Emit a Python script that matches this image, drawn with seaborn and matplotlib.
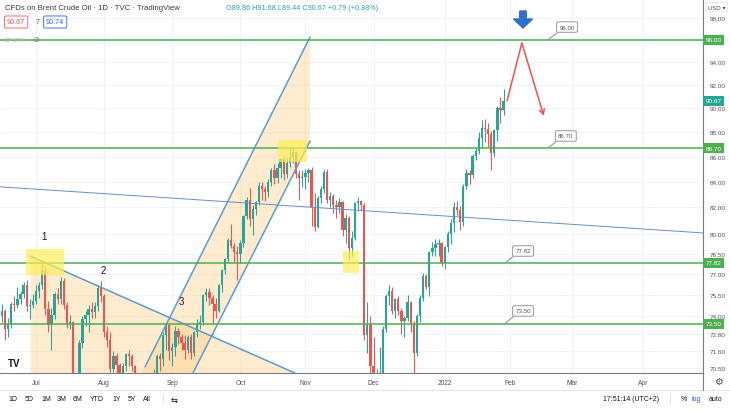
import numpy as np
import pandas as pd
import matplotlib
matplotlib.use("Agg")
import matplotlib.pyplot as plt
import matplotlib.transforms as mtransforms
from matplotlib.patches import Rectangle, FancyArrow
from matplotlib.lines import Line2D
from matplotlib.ticker import NullLocator, NullFormatter, FixedLocator, FixedFormatter
import seaborn as sns

sns.set_theme(style="white")
plt.rcParams['font.family'] = ['Liberation Sans', 'DejaVu Sans']

# ---------------- data (daily candles, business days from 2021-06-14) ----------------
start_date = "2021-06-14"
opens = [72.6, 72.9, 74.0, 74.4, 73.1, 73.5, 74.9, 74.8, 75.2, 75.6,
         76.2, 74.7, 74.8, 75.1, 75.8, 76.2, 77.2, 74.5, 73.4, 74.1,
         75.6, 75.2, 76.5, 74.8, 73.5, 73.6, 68.6, 69.4, 72.2, 73.8,
         74.1, 74.5, 74.3, 74.7, 76.0, 75.4, 72.9, 72.4, 70.4, 71.3,
         70.7, 69.0, 70.6, 71.4, 71.3, 70.6, 69.5, 69.0, 68.2, 66.5,
         65.2, 68.8, 70.1, 71.3, 71.1, 72.7, 73.4, 71.6, 71.9, 73.0,
         72.6, 72.2, 71.7, 72.6, 71.5, 72.9, 73.5, 73.6, 75.5, 75.7,
         75.3, 74.9, 74.4, 76.2, 77.3, 78.1, 79.5, 79.1, 78.6, 78.5,
         79.3, 81.3, 82.6, 81.1, 81.9, 82.4, 83.7, 83.4, 83.2, 84.0,
         84.9, 84.3, 85.1, 85.8, 84.6, 85.5, 86.0, 86.4, 84.6, 84.3,
         84.4, 84.7, 84.9, 82.0, 80.5, 82.7, 83.4, 84.8, 82.6, 82.9,
         82.2, 82.0, 82.4, 80.3, 81.2, 78.9, 79.7, 82.3, 82.5, 82.2,
         72.7, 73.4, 70.6, 68.9, 69.7, 69.9, 73.1, 75.4, 75.8, 74.4,
         75.2, 74.4, 73.7, 73.9, 75.0, 73.5, 71.5, 74.0, 75.3, 76.9,
         76.1, 78.6, 78.9, 79.2, 79.3, 77.8, 79.0, 80.0, 80.8, 82.0,
         81.8, 80.9, 83.7, 84.7, 84.5, 86.1, 86.5, 87.5, 88.4, 88.3,
         87.9, 86.3, 88.2, 90.0, 89.86]
highs = [73.4, 74.2, 74.9, 74.5, 73.9, 75.0, 75.4, 76.1, 75.8, 76.4,
         76.6, 75.2, 75.6, 76.2, 76.4, 77.8, 77.6, 75.1, 74.6, 75.7,
         76.0, 76.8, 76.7, 75.0, 74.1, 73.7, 69.9, 72.4, 74.0, 74.4,
         74.8, 75.0, 75.0, 76.2, 76.5, 75.6, 73.3, 72.9, 71.6, 71.5,
         70.8, 70.8, 71.5, 71.7, 71.4, 70.7, 69.9, 69.9, 68.4, 66.8,
         68.9, 70.4, 71.4, 71.5, 72.9, 73.5, 73.5, 72.2, 73.3, 73.2,
         72.8, 72.7, 72.7, 72.8, 73.0, 73.8, 74.1, 75.6, 76.0, 76.0,
         75.5, 75.3, 76.3, 77.4, 78.2, 79.7, 80.7, 79.3, 79.1, 79.5,
         81.4, 82.8, 83.5, 82.2, 82.5, 84.0, 84.0, 83.7, 84.2, 85.1,
         85.4, 85.5, 85.9, 86.1, 85.9, 86.7, 86.7, 86.5, 84.9, 84.9,
         85.0, 85.1, 85.2, 83.1, 82.9, 83.7, 85.0, 85.0, 83.2, 83.0,
         82.6, 82.7, 82.5, 81.5, 81.3, 80.2, 82.4, 82.8, 82.6, 82.3,
         75.0, 74.0, 72.6, 70.4, 71.9, 73.3, 75.6, 76.2, 76.1, 75.3,
         75.4, 74.6, 74.0, 75.5, 75.1, 73.7, 74.2, 75.5, 77.1, 77.0,
         78.7, 79.4, 79.6, 79.6, 79.4, 79.1, 80.2, 81.1, 82.4, 82.5,
         82.1, 83.8, 85.0, 84.9, 86.2, 86.7, 88.0, 89.0, 89.1, 88.8,
         88.1, 88.3, 90.2, 91.0, 91.68]
lows = [72.2, 72.6, 73.6, 72.4, 72.6, 73.2, 74.4, 74.6, 74.9, 75.3,
        74.4, 73.8, 74.6, 74.9, 75.3, 75.9, 74.1, 72.9, 71.7, 73.8,
        74.9, 74.9, 74.5, 73.2, 73.1, 68.3, 67.4, 68.9, 71.8, 73.3,
        72.9, 73.9, 73.9, 74.4, 75.0, 72.6, 71.9, 70.2, 70.2, 69.8,
        68.2, 68.8, 70.3, 70.6, 70.3, 68.9, 68.7, 68.0, 65.8, 64.6,
        65.0, 68.5, 69.9, 70.3, 70.6, 71.7, 71.0, 70.6, 71.3, 72.1,
        71.7, 71.1, 71.5, 71.1, 71.3, 72.6, 73.1, 73.4, 75.1, 74.8,
        73.5, 73.9, 74.3, 75.7, 77.0, 77.9, 78.9, 77.9, 76.6, 77.8,
        79.0, 81.1, 80.6, 79.9, 81.4, 82.2, 82.6, 82.5, 82.8, 83.7,
        83.8, 83.9, 84.3, 84.1, 84.3, 85.2, 85.5, 84.3, 82.6, 83.6,
        83.4, 84.0, 80.6, 80.2, 80.4, 82.3, 83.1, 82.3, 82.0, 81.6,
        81.2, 81.6, 79.8, 79.3, 78.0, 78.3, 79.5, 81.7, 81.8, 72.4,
        71.5, 69.8, 68.3, 65.7, 69.3, 69.7, 72.9, 74.8, 74.2, 73.9,
        74.1, 72.8, 72.6, 73.7, 72.9, 69.3, 71.3, 73.6, 75.1, 75.9,
        75.4, 78.3, 78.3, 78.3, 77.6, 77.4, 78.6, 79.2, 80.1, 81.4,
        80.3, 80.6, 83.4, 83.8, 84.3, 85.7, 86.2, 86.7, 87.2, 86.8,
        84.9, 86.0, 87.3, 88.8, 89.44]
closes = [72.9, 74.0, 74.4, 73.1, 73.5, 74.9, 74.8, 75.2, 75.6, 76.2,
          74.7, 74.8, 75.1, 75.8, 76.2, 77.2, 74.5, 73.4, 74.1, 75.6,
          75.2, 76.5, 74.8, 73.5, 73.6, 68.6, 69.4, 72.2, 73.8, 74.1,
          74.5, 74.3, 74.7, 76.0, 75.4, 72.9, 72.4, 70.4, 71.3, 70.7,
          69.0, 70.6, 71.4, 71.3, 70.6, 69.5, 69.0, 68.2, 66.5, 65.2,
          68.8, 70.1, 71.3, 71.1, 72.7, 73.4, 71.6, 71.9, 73.0, 72.6,
          72.2, 71.7, 72.6, 71.5, 72.9, 73.5, 73.6, 75.5, 75.7, 75.3,
          74.9, 74.4, 76.2, 77.3, 78.1, 79.5, 79.1, 78.6, 78.5, 79.3,
          81.3, 82.6, 81.1, 81.9, 82.4, 83.7, 83.4, 83.2, 84.0, 84.9,
          84.3, 85.1, 85.8, 84.6, 85.5, 86.0, 86.4, 84.6, 84.3, 84.4,
          84.7, 84.9, 82.0, 80.5, 82.7, 83.4, 84.8, 82.6, 82.9, 82.2,
          82.0, 82.4, 80.3, 81.2, 78.9, 79.7, 82.3, 82.5, 82.2, 72.7,
          73.4, 70.6, 68.9, 69.7, 69.9, 73.1, 75.4, 75.8, 74.4, 75.2,
          74.4, 73.7, 73.9, 75.0, 73.5, 71.5, 74.0, 75.3, 76.9, 76.1,
          78.6, 78.9, 79.2, 79.3, 77.8, 79.0, 80.0, 80.8, 82.0, 81.8,
          80.9, 83.7, 84.7, 84.5, 86.1, 86.5, 87.5, 88.4, 88.3, 87.9,
          86.3, 88.2, 90.0, 89.86, 90.67]

y_ticks = [98, 96, 94, 92, 90, 88, 86, 84, 82, 80, 78.5, 77, 75.5, 74, 72.8, 71.6, 70.5]
levels = [96.00, 86.70, 77.82, 73.50]
last_price = 90.67
month_labels = ["Jul", "Aug", "Sep", "Oct", "Nov", "Dec", "2022", "Feb", "Mar", "Apr"]
header_title = "CFDs on Brent Crude Oil · 1D · TVC · TradingView"
header_ohlc = "O89.86 H91.68 L89.44 C90.67 +0.79 (+0.88%)"
bid, spread, ask = "90.67", "7", "90.74"
ranges = ["1D", "5D", "1M", "3M", "6M", "YTD", "1Y", "5Y", "All"]
clock = "17:51:14 (UTC+2)"

# ---------------- derived ----------------
n = len(closes)
idx = np.arange(n)
all_days = pd.bdate_range(start_date, "2022-04-30")
month_starts = pd.date_range("2021-07-01", "2022-04-01", freq="MS")
month_pos = [int(all_days.searchsorted(m)) for m in month_starts]

o = np.array(opens); h = np.array(highs); l = np.array(lows); c = np.array(closes)
up = c >= o
UP, DN = '#26a69a', '#ef5350'
cols = np.where(up, UP, DN)

W, H = 730, 410
fig = plt.figure(figsize=(7.3, 4.1), dpi=100)
ax = fig.add_axes([0, 1 - 374 / H, 703 / W, 374 / H])
ax.set_facecolor('white')

ax.set_yscale('log')
ax.set_ylim(70.16, 99.77)
ax.set_xlim(1.375, 228.4)

# grid
for m in month_pos:
    ax.axvline(m, color='#f0f3fa', lw=0.8, zorder=0)
for t in y_ticks:
    ax.axhline(t, color='#f0f3fa', lw=0.8, zorder=0)

# drawings: shaded triangle and channel
tri_x = [11.3, 96.6, 11.3]
tri_y = [78.33, 70.16, 70.16]
ax.fill(tri_x, tri_y, color='#ffcc80', alpha=0.38, lw=0, zorder=1)
ch_x = [47.2, 101.5, 101.5, 63.7]
ch_y = [70.16, 96.27, 87.29, 70.16]
ax.fill(ch_x, ch_y, color='#ffcc80', alpha=0.38, lw=0, zorder=1)

# candles
ax.vlines(idx, l, h, colors=cols, lw=0.75, zorder=3)
body_h = np.maximum(np.abs(c - o), 0.06)
ax.bar(idx, body_h, bottom=np.minimum(o, c), width=0.75, color=cols, lw=0, zorder=3)

# trend lines
blue = '#5a9bd4'
sns.lineplot(x=[11.1, 96.6], y=[78.33, 70.16], ax=ax, color=blue, lw=1.1, zorder=4)
sns.lineplot(x=[48.2, 101.5], y=[70.56, 96.27], ax=ax, color=blue, lw=1.1, zorder=4)
sns.lineplot(x=[63.7, 101.5], y=[70.16, 87.29], ax=ax, color=blue, lw=1.1, zorder=4)
sns.lineplot(x=[1.375, 228.4], y=[83.6, 80.05], ax=ax, color='#6a8fc4', lw=0.7, zorder=4)

# horizontal levels
green = '#4caf50'
for lv in levels:
    ax.axhline(lv, color=green, lw=1.1, zorder=4)

# yellow boxes
for (x0, x1, y0, y1) in [(9.8, 22.0, 76.94, 78.85), (91.1, 100.5, 85.58, 87.37), (112.1, 117.3, 77.12, 78.70)]:
    ax.add_patch(Rectangle((x0, y0), x1 - x0, y1 - y0, fc='#ffee58', alpha=0.7, ec='none', zorder=5))

# red projection arrow
red = '#ef5350'
ax.plot([165.1, 169.9], [90.64, 95.72], color=red, lw=1.1, zorder=5)
ax.annotate('', xy=(177.0, 89.37), xytext=(169.9, 95.72),
            arrowprops=dict(arrowstyle='->', color=red, lw=1.1, mutation_scale=9, shrinkA=0, shrinkB=0), zorder=5)

# wave labels
for s, x, y in [("1", 15.6, 79.82), ("2", 34.6, 77.31), ("3", 59.8, 75.09)]:
    ax.text(x, y, s, fontsize=7, color='#131722', ha='center', va='center', zorder=6)

# callout labels on the levels
callouts = [(96.00, 178.3, 184.5, 97.17), (86.70, 178.3, 184.1, 87.70),
            (77.82, 164.4, 170.3, 78.70), (73.50, 164.4, 170.3, 74.38)]
for lv, tx, cx, cy in callouts:
    ax.annotate(f"{lv:.2f}", xy=(tx, lv), xytext=(cx, cy), textcoords='data',
                fontsize=4.4, color='#50535e', ha='center', va='center', zorder=7,
                bbox=dict(boxstyle='round,pad=0.45,rounding_size=0.25', fc='white', ec='#9598a1', lw=0.7),
                arrowprops=dict(arrowstyle='-', color='#9598a1', lw=0.8, relpos=(0.12, 0.0), shrinkA=0, shrinkB=0))

# axes styling (the 96.00 tick is covered by its level label, as in the reference)
tick_text = ["" if v in levels else f"{v:.2f}" for v in y_ticks]
ax.yaxis.tick_right()
ax.yaxis.set_major_locator(FixedLocator(y_ticks))
ax.yaxis.set_major_formatter(FixedFormatter(tick_text))
ax.yaxis.set_minor_locator(NullLocator())
ax.yaxis.set_minor_formatter(NullFormatter())
ax.set_xticks(month_pos)
ax.set_xticklabels(month_labels)
ax.tick_params(axis='y', length=0, pad=5, labelsize=4.6, labelcolor='#50535e')
ax.tick_params(axis='x', length=0, pad=4.5, labelsize=4.8, labelcolor='#50535e')
for sp in ['top', 'left']:
    ax.spines[sp].set_visible(False)
for sp in ['right', 'bottom']:
    ax.spines[sp].set_color('#787b86')
    ax.spines[sp].set_linewidth(0.8)

trans = mtransforms.blended_transform_factory(ax.transAxes, ax.transData)
for lv in levels:
    ax.text(1.004, lv, f"{lv:.2f}", transform=trans, ha='left', va='center', fontsize=4.6,
            color='white', clip_on=False, zorder=8,
            bbox=dict(boxstyle='square,pad=0.4', fc=green, ec='none'))
ax.text(1.004, last_price, f"{last_price:.2f}", transform=trans, ha='left', va='center', fontsize=4.6,
        color='white', clip_on=False, zorder=8, bbox=dict(boxstyle='square,pad=0.4', fc=UP, ec='none'))

# TradingView logo
ax.text(14 / 703, (374 - 364) / 374, "TV", transform=ax.transAxes, fontsize=7, fontweight='bold',
        color='#131722', ha='center', va='center', zorder=8,
        bbox=dict(boxstyle='round,pad=0.3', fc='white', ec='none'))

# ---------------- figure-level text (header, toolbar) ----------------
def ftxt(x, y, s, **kw):
    kw.setdefault('va', 'center')
    return fig.text(x / W, 1 - y / H, s, **kw)

ftxt(5, 8, header_title, fontsize=5.6, color='#3a3d46')
ftxt(226, 8, header_ohlc, fontsize=5.2, color=UP)
ftxt(7, 23, bid, fontsize=5.2, color=DN,
     bbox=dict(boxstyle='round,pad=0.35,rounding_size=0.2', fc='white', ec=DN, lw=0.6))
ftxt(36, 23, spread, fontsize=5.0, color='#50535e')
ftxt(46, 23, ask, fontsize=5.2, color='#2962ff',
     bbox=dict(boxstyle='round,pad=0.35,rounding_size=0.2', fc='white', ec='#2962ff', lw=0.6))
ftxt(5, 40, "SP:SPX", fontsize=4.3, color='#b2b5be')
ftxt(32, 40, "⊘", fontsize=6, color='#787b86', family='DejaVu Sans')
ftxt(717, 8, "USD ▾", fontsize=4.3, color='#50535e', ha='center', family='DejaVu Sans',
     bbox=dict(boxstyle='round,pad=0.3,rounding_size=0.2', fc='white', ec='#e0e3eb', lw=0.6))

# blue down arrow icon
fig.patches.append(FancyArrow(523 / 100, (H - 12) / 100, 0, -0.17, width=0.065, head_width=0.19,
                              head_length=0.09, length_includes_head=True,
                              transform=fig.dpi_scale_trans, color='#2c6ecb', zorder=10))

# bottom separators
fig.add_artist(Line2D([0, 1], [1 - 391 / H] * 2, color='#e0e3eb', lw=0.7))
fig.add_artist(Line2D([703 / W] * 2, [1 - 374 / H, 1 - 391 / H], color='#787b86', lw=0.8))
ftxt(718, 382, "⚙", fontsize=7, color='#50535e', ha='center', family='DejaVu Sans')

for s, x in zip(ranges, [13, 29, 46, 62, 78, 97, 117, 132, 147]):
    ftxt(x, 400, s, fontsize=5, color='#131722', ha='center')
fig.add_artist(Line2D([163 / W] * 2, [1 - 395 / H, 1 - 405 / H], color='#e0e3eb', lw=0.7))
ftxt(174, 400, "⇆", fontsize=6, color='#131722', ha='center', family='DejaVu Sans')
ftxt(631, 400, clock, fontsize=5, color='#131722', ha='center')
fig.add_artist(Line2D([670 / W] * 2, [1 - 395 / H, 1 - 405 / H], color='#e0e3eb', lw=0.7))
ftxt(684, 400, "%", fontsize=5, color='#131722', ha='center')
ftxt(696, 400, "log", fontsize=5, color='#2962ff', ha='center')
ftxt(716, 400, "auto", fontsize=5, color='#131722', ha='center')

fig.savefig("out.png", dpi=100)
